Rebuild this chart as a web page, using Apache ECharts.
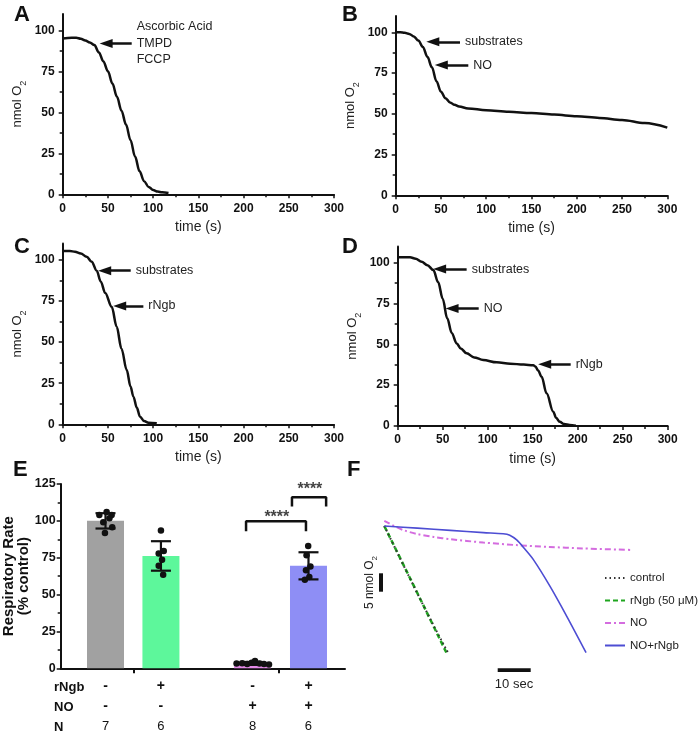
<!DOCTYPE html>
<html>
<head>
<meta charset="utf-8">
<script src="https://cdn.jsdelivr.net/npm/echarts@6/dist/echarts.min.js"></script>
<style>
html, body { margin: 0; padding: 0; background: #fff; }
#chartContainer { width: 700px; height: 733px; }
</style>
</head>
<body>
<div id="chartContainer"></div>
<script>
// oxygen traces, [time (s), nmol O2]
var traceA = [[0,95],[10,95.5],[15,95.5],[20,94.8],[25,93.8],[30,92.5],[35,91],[40,86.5],[45,81],[50,75],[55,67.5],[60,59.5],[65,51],[70,42.5],[75,33],[80,23],[85,14],[90,8],[95,4.5],[100,2.6],[105,1.7],[110,1.2],[117,0.8]];
var traceB = [[0,100],[5,100],[10,99.7],[15,99],[20,97.5],[25,95],[30,91],[35,85],[40,78.5],[45,70],[50,63.5],[55,59.5],[60,57],[65,55.5],[70,54.5],[80,53.3],[100,52.2],[125,51.2],[150,50.5],[175,49.5],[200,48.5],[225,47.5],[250,46.2],[275,44.3],[300,41.5]];
var traceC = [[0,105.5],[8,105.5],[13.6,105],[20,104],[26.5,102],[32,99],[37.6,93.5],[42,87],[47,80],[54.2,71.5],[59.7,59.4],[65,46],[70.8,33],[75,23],[78.2,16.8],[82,10],[85.5,4.6],[90,2],[94.8,1],[104,0.6]];
var traceD = [[0,103.3],[13.7,103.3],[20,102.5],[26.6,100.6],[33,98.5],[39.6,95.5],[45,88],[50,78],[55,66],[60,57],[65.5,50.6],[70,47.5],[76.6,44.5],[85,42],[95,40.4],[110,39],[125,38.2],[140,37.6],[150.7,37.2],[153,36.5],[156,34],[159.9,30.2],[165.4,20],[172.8,8.8],[176,5],[180,2.6],[185,1.2],[191,0.6],[198,0.2]];

// annotation arrows: [tip time, level, tail time, text]
var arrowsA = [[41, 92, 76.3, 'Ascorbic Acid\nTMPD\nFCCP']];
var arrowsB = [[34, 94.2, 71, 'substrates'], [43.4, 79.9, 80.2, 'NO']];
var arrowsC = [[39.4, 93.5, 75.2, 'substrates'], [56, 72, 89.2, 'rNgb']];
var arrowsD = [[39.6, 96.1, 76.6, 'substrates'], [53.4, 72, 90, 'NO'], [156.3, 37.8, 192.2, 'rNgb']];

// panel E, respiratory rate (% control)
var barPos = [0.8, 1.79, 3.425, 4.425];
var barMean = [100, 76.2, 3.3, 69.5];
var barSd = [5.2, 10, 1, 9.2];
var rowRNgb = ['-', '+', '-', '+'];
var rowNO = ['-', '-', '+', '+'];
var rowN = ['7', '6', '8', '6'];
var dotsE = [
	[0.82,106],[0.69,104],[0.91,104],[0.87,101.8],[0.76,99],[0.92,95.7],[0.79,91.8],
	[1.79,93.4],[1.84,79.5],[1.75,77.8],[1.81,73.6],[1.75,69.5],[1.83,63.5],
	[3.14,3.2],[3.24,3.5],[3.33,3.0],[3.41,3.8],[3.47,4.9],[3.55,3.3],[3.63,2.9],[3.72,2.6],
	[4.42,82.9],[4.39,76.6],[4.46,69.1],[4.38,66.5],[4.44,61.9],[4.36,60.1]
];
var bracket1 = [[3.31,93],[3.31,99.7],[4.38,99.7],[4.38,93]];
var bracket2 = [[4.13,109.7],[4.13,116],[4.74,116],[4.74,109.7]];
var starsE = [[3.86,102.4],[4.45,121.1]];

// panel F traces, [time (s), nmol O2]
var fControl = [[0,100],[5,90.8],[10,81.7],[15,72.8],[19.3,65.6]];
var fRNgb = [[0,100],[5,90.9],[10,81.8],[15,72.6],[18.9,65.4]];
var fNO = [[0,101.4],[3,100],[6,98.8],[10,97.8],[15,97],[20,96.4],[30,95.5],[40,94.8],[50,94.3],[60,93.9],[74.5,93.5]];
var fNORNgb = [[0,100],[10,99.4],[20,98.8],[30,98.2],[36,97.9],[38,97.5],[40.1,96.2],[42.5,93.8],[45.2,90.8],[50.2,83.6],[55.3,75.4],[61.1,65.6]];

var option = null;
var FONT = 'Liberation Sans, Arial, sans-serif';
var INK = '#111';

initChart();

function initChart() {
	initOption();
	var chartContainer = echarts.init(document.getElementById('chartContainer'));
	chartContainer.setOption(option);
}

function timeAxis(idx) {
	return {
		type: 'value', gridIndex: idx, min: 0, max: 300, interval: 50,
		name: 'time (s)', nameLocation: 'middle', nameGap: 26, nameMoveOverlap: false,
		nameTextStyle: { fontSize: 14, color: '#222' },
		axisLine: { lineStyle: { color: INK, width: 2 } },
		axisTick: { length: 4, lineStyle: { color: INK, width: 1.5 } },
		minorTick: { show: true, splitNumber: 2, length: 3, lineStyle: { color: INK, width: 1.5 } },
		axisLabel: { fontSize: 12, fontWeight: 'bold', color: INK, margin: 8 },
		splitLine: { show: false }
	};
}

function o2Axis(idx) {
	return {
		type: 'value', gridIndex: idx, min: 0, max: 110, interval: 25,
		name: 'nmol O{s|2}', nameLocation: 'middle', nameGap: 35, nameMoveOverlap: false,
		nameTextStyle: { fontSize: 13, color: '#222', rich: { s: { fontSize: 9, verticalAlign: 'bottom', lineHeight: 20 } } },
		axisLine: { lineStyle: { color: INK, width: 2 } },
		axisTick: { length: 4, customValues: [0, 25, 50, 75, 100], lineStyle: { color: INK, width: 1.5 } },
		minorTick: { show: true, splitNumber: 2, length: 3, lineStyle: { color: INK, width: 1.5 } },
		axisLabel: {
			fontSize: 12, fontWeight: 'bold', color: INK, margin: 8,
			formatter: function(v) { return v > 100 ? '' : v; }
		},
		splitLine: { show: false }
	};
}

function arrowLines(list) {
	var data = [];
	for (var i = 0; i < list.length; i++) {
		var a = list[i];
		data.push([
			{ coord: [a[0] + 7, a[1]], symbol: 'triangle' },
			{ coord: [a[2], a[1]], symbol: 'none', label: { formatter: a[3] } }
		]);
	}
	return {
		silent: true, symbolSize: [9, 13],
		lineStyle: { color: INK, width: 2.5, type: 'solid' },
		label: { show: true, position: 'end', distance: 5, color: '#222', fontSize: 12.5, lineHeight: 16.5, fontFamily: FONT },
		data: data
	};
}

function traceSeries(idx, data, arrows) {
	return {
		type: 'line', xAxisIndex: idx, yAxisIndex: idx, data: data,
		symbol: 'none', smooth: 0.35, smoothMonotone: 'x',
		lineStyle: { color: INK, width: 2.5 },
		markLine: arrowLines(arrows)
	};
}

function renderErr(params, api) {
	var x = api.value(0), m = api.value(1), s = api.value(2);
	var hi = api.coord([x, m + s]);
	var lo = api.coord([x, m - s]);
	var w = 10;
	var st = { stroke: INK, lineWidth: 2.2 };
	return {
		type: 'group',
		children: [
			{ type: 'line', shape: { x1: hi[0], y1: hi[1], x2: lo[0], y2: lo[1] }, style: st },
			{ type: 'line', shape: { x1: hi[0] - w, y1: hi[1], x2: hi[0] + w, y2: hi[1] }, style: st },
			{ type: 'line', shape: { x1: lo[0] - w, y1: lo[1], x2: lo[0] + w, y2: lo[1] }, style: st }
		]
	};
}

function letter(ch, x, y) {
	return { type: 'text', x: x, y: y, style: { text: ch, fontSize: 22, fontWeight: 'bold', fill: INK, fontFamily: FONT, textVerticalAlign: 'top' } };
}

function rowHead(txt, y) {
	return { type: 'text', x: 54, y: y, style: { text: txt, fontSize: 13, fontWeight: 'bold', fill: INK, fontFamily: FONT, textVerticalAlign: 'middle' } };
}

function initOption() {
	var barColors = ['#a1a1a1', '#5df79b', '#e58be8', '#8e8ef5'];
	var barData = [], errData = [];
	for (var i = 0; i < barPos.length; i++) {
		barData.push({ value: [barPos[i], barMean[i]], itemStyle: { color: barColors[i] } });
		errData.push([barPos[i], barMean[i], barSd[i]]);
	}

	option = {
		animation: false,
		textStyle: { fontFamily: FONT },
		grid: [
			{ left: 62.7, top: 13.9, width: 271.3, height: 180.4, outerBoundsMode: 'none' },
			{ left: 395.7, top: 16, width: 271.6, height: 179.3, outerBoundsMode: 'none' },
			{ left: 62.7, top: 243.6, width: 271.3, height: 180.7, outerBoundsMode: 'none' },
			{ left: 397.7, top: 246.4, width: 270, height: 179.6, outerBoundsMode: 'none' },
			{ left: 60.7, top: 484, width: 284.3, height: 184.3, outerBoundsMode: 'none' },
			{ left: 384.3, top: 518.6, width: 246, height: 136.2, outerBoundsMode: 'none' }
		],
		xAxis: [
			timeAxis(0), timeAxis(1), timeAxis(2), timeAxis(3),
			{
				type: 'value', gridIndex: 4, min: 0, max: 5.077,
				axisLine: { lineStyle: { color: INK, width: 2 } },
				axisTick: { length: 5, customValues: [1.3, 3.9], lineStyle: { color: INK, width: 2 } },
				axisLabel: {
					customValues: barPos, margin: 8, color: INK,
					formatter: function(v) {
						var k = barPos.indexOf(v);
						if (k < 0) return '';
						return '{p|' + rowRNgb[k] + '}\n{p|' + rowNO[k] + '}\n{n|' + rowN[k] + '}';
					},
					rich: {
						p: { fontSize: 14, fontWeight: 'bold', lineHeight: 20, color: INK },
						n: { fontSize: 13, lineHeight: 20, color: INK }
					}
				},
				splitLine: { show: false }
			},
			{ type: 'value', gridIndex: 5, min: 0, max: 74.5, show: false }
		],
		yAxis: [
			o2Axis(0), o2Axis(1), o2Axis(2), o2Axis(3),
			{
				type: 'value', gridIndex: 4, min: 0, max: 125, interval: 25,
				name: 'Respiratory Rate\n(% control)', nameLocation: 'middle', nameGap: 29, nameMoveOverlap: false,
				nameTextStyle: { fontSize: 15, fontWeight: 'bold', color: INK, lineHeight: 15.5 },
				axisLine: { lineStyle: { color: INK, width: 2 } },
				axisTick: { length: 4, lineStyle: { color: INK, width: 1.5 } },
				minorTick: { show: true, splitNumber: 2, length: 3, lineStyle: { color: INK, width: 1.5 } },
				axisLabel: { fontSize: 12.5, fontWeight: 'bold', color: INK, margin: 5 },
				splitLine: { show: false }
			},
			{ type: 'value', gridIndex: 5, min: 65, max: 102, show: false }
		],
		legend: {
			data: ['control', 'rNgb (50 μM)', 'NO', 'NO+rNgb'],
			orient: 'vertical', left: 599, top: 567,
			itemWidth: 20, itemHeight: 10, itemGap: 10.5, selectedMode: false,
			itemStyle: { opacity: 0, borderWidth: 0 },
			textStyle: { fontSize: 11.5, color: '#222' }
		},
		series: [
			traceSeries(0, traceA, arrowsA),
			traceSeries(1, traceB, arrowsB),
			traceSeries(2, traceC, arrowsC),
			traceSeries(3, traceD, arrowsD),
			{
				type: 'bar', xAxisIndex: 4, yAxisIndex: 4, barWidth: 37, data: barData
			},
			{
				type: 'custom', xAxisIndex: 4, yAxisIndex: 4, renderItem: renderErr,
				encode: { x: 0, y: 1 }, data: errData, z: 3
			},
			{
				type: 'scatter', xAxisIndex: 4, yAxisIndex: 4, data: dotsE,
				symbolSize: 6.5, itemStyle: { color: INK, opacity: 1 }, z: 4
			},
			{
				type: 'line', xAxisIndex: 4, yAxisIndex: 4, data: bracket1, symbol: 'none',
				lineStyle: { color: INK, width: 2.5 }
			},
			{
				type: 'line', xAxisIndex: 4, yAxisIndex: 4, data: bracket2, symbol: 'none',
				lineStyle: { color: INK, width: 2.5 }
			},
			{
				type: 'scatter', xAxisIndex: 4, yAxisIndex: 4, data: starsE, symbolSize: 0,
				label: { show: true, position: 'inside', formatter: '****', fontSize: 16, fontWeight: 'bold', color: INK }
			},
			{
				name: 'rNgb (50 μM)', type: 'line', xAxisIndex: 5, yAxisIndex: 5, data: fRNgb, symbol: 'none',
				itemStyle: { color: '#1ea51e' }, lineStyle: { color: '#1ea51e', width: 2.5, type: [5, 3] }
			},
			{
				name: 'control', type: 'line', xAxisIndex: 5, yAxisIndex: 5, data: fControl, symbol: 'none',
				itemStyle: { color: '#333' }, lineStyle: { color: '#333', width: 2, type: [1.5, 3] }
			},
			{
				name: 'NO', type: 'line', xAxisIndex: 5, yAxisIndex: 5, data: fNO, symbol: 'none', smooth: 0.3,
				itemStyle: { color: '#d46cdf' }, lineStyle: { color: '#d46cdf', width: 2, type: [6, 3, 2, 3] }
			},
			{
				name: 'NO+rNgb', type: 'line', xAxisIndex: 5, yAxisIndex: 5, data: fNORNgb, symbol: 'none', smooth: 0.3,
				itemStyle: { color: '#4d4dd3' }, lineStyle: { color: '#4d4dd3', width: 1.6 }
			}
		],
		graphic: [
			letter('A', 14, 4), letter('B', 342, 4), letter('C', 14, 236),
			letter('D', 342, 236), letter('E', 13, 459), letter('F', 347, 459),
			rowHead('rNgb', 687), rowHead('NO', 707), rowHead('N', 727),
			{ type: 'rect', shape: { x: 379, y: 573.3, width: 4, height: 18.4 }, style: { fill: INK } },
			{ type: 'rect', shape: { x: 497.7, y: 668.3, width: 33, height: 3.8 }, style: { fill: INK } },
			{
				type: 'text', x: 370, y: 582.5, rotation: Math.PI / 2,
				style: {
					text: '5 nmol O{s|2}', fontSize: 12, fill: '#222', fontFamily: FONT,
					textAlign: 'center', textVerticalAlign: 'middle',
					rich: { s: { fontSize: 8, verticalAlign: 'bottom', lineHeight: 18, fill: '#222' } }
				}
			},
			{ type: 'text', x: 514, y: 684, style: { text: '10 sec', fontSize: 13, fill: '#222', fontFamily: FONT, textAlign: 'center', textVerticalAlign: 'middle' } }
		]
	};
}
</script>
</body>
</html>
